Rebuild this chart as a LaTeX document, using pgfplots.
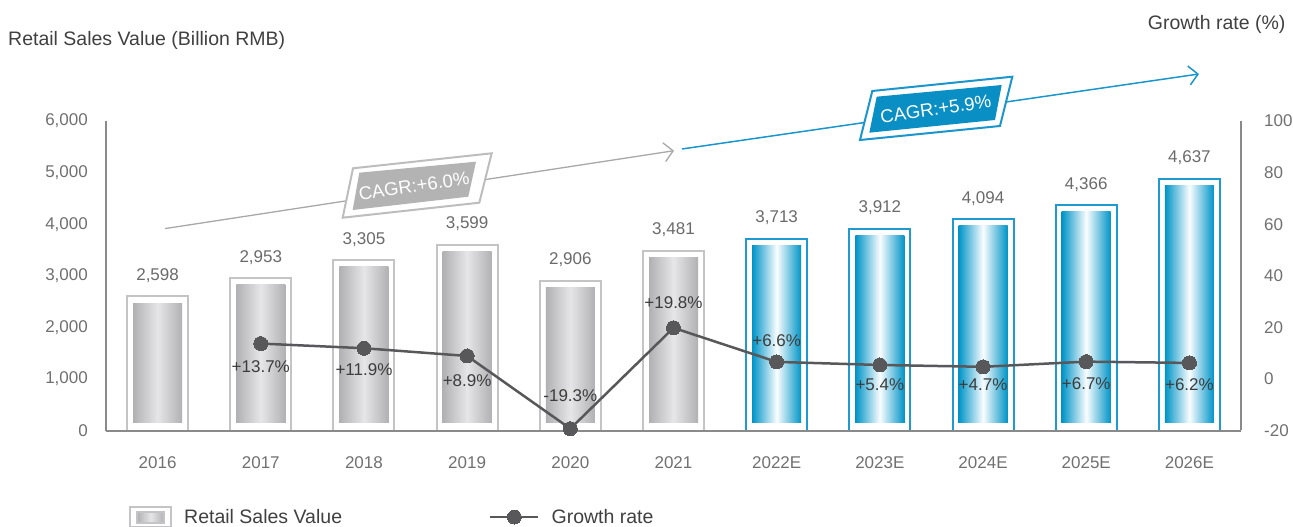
\documentclass[border=0pt]{standalone}
\usepackage{pgfplots}
\pgfplotsset{compat=1.18}
\usepackage{fontspec}
\setmainfont{Liberation Sans}
\usetikzlibrary{arrows.meta}
\definecolor{axisgray}{HTML}{8A8A8A}
\definecolor{tickgray}{HTML}{707070}
\definecolor{valgray}{HTML}{6A6A6A}
\definecolor{titlegray}{HTML}{404040}
\definecolor{lblgray}{HTML}{3C3C3C}
\definecolor{framegray}{HTML}{C4C4C6}
\definecolor{frameblue}{HTML}{1E9AD0}
\definecolor{gEdge}{HTML}{B1B1B4}
\definecolor{gMid}{HTML}{E6E6E8}
\definecolor{bEdge}{HTML}{0094C7}
\definecolor{bMid}{HTML}{FAFDFF}
\definecolor{linegray}{HTML}{58585A}
\definecolor{cagrgrayline}{HTML}{A8A8A8}
\definecolor{cagrgrayborder}{HTML}{BDBDBD}
\definecolor{cagrgrayfill}{HTML}{B3B3B3}
\definecolor{cagrblue}{HTML}{1A96CC}
\definecolor{cagrbluefill}{HTML}{0A8FC4}
\newcommand\fs{\fontsize{17pt}{20pt}\selectfont}
\newcommand\fl{\fontsize{19.5pt}{22pt}\selectfont}
\pgfplotsset{
  graybar/.style={forget plot, ybar, bar width=49pt, bar shift=0pt, draw=none,
    left color=gEdge, right color=gEdge, middle color=gMid},
  bluebar/.style={forget plot, ybar, bar width=49pt, bar shift=0pt, draw=none,
    left color=bEdge, right color=bEdge, middle color=bMid},
}
\begin{document}
\begin{tikzpicture}
\path[use as bounding box] (-106pt,-96.5pt) rectangle (1187pt,430.5pt);
\begin{axis}[
  at={(0pt,0pt)}, anchor=south west,
  width=1135pt, height=309.5pt, scale only axis,
  xmin=-0.5, xmax=10.5, ymin=0, ymax=6000,
  axis x line*=bottom, axis y line*=left,
  axis line style={draw=axisgray, line width=2pt, -},
  every outer x axis line/.append style={-},
  every outer y axis line/.append style={-},
  xtick={0,...,10},
  xticklabels={2016,2017,2018,2019,2020,2021,2022E,2023E,2024E,2025E,2026E},
  ytick={0,1000,...,6000},
  scaled y ticks=false,
  major tick length=0pt,
  /pgf/number format/assume math mode=true,
  /pgf/number format/1000 sep={,},
  tick label style={font=\fs, text=tickgray},
  xticklabel style={anchor=north, inner sep=0pt, yshift=-26pt},
  yticklabel style={anchor=east, inner sep=0pt, xshift=-18pt},
  clip=false, axis on top,
  legend columns=2,
  legend cell align=left,
  legend style={at={(axis description cs:0.0203,-0.2795)}, anchor=west, draw=none, fill=none,
    inner sep=0pt, font=\fl, text=titlegray,
    /tikz/every odd column/.append style={column sep=10pt},
    /tikz/every even column/.append style={column sep=145pt}},
]
% outer frames (gray)
\addplot[ybar, bar width=61pt, bar shift=0pt, draw=framegray, line width=2pt, fill=white,
  point meta=explicit symbolic, nodes near coords,
  every node near coord/.append style={anchor=base, yshift=16pt, inner sep=0pt, font=\fs, text=valgray},
  legend image code/.code={
    \draw[line width=2pt, draw=framegray, fill=white] (0pt,-10pt) rectangle (41pt,10pt);
    \shade[left color=gEdge, right color=gEdge, middle color=gMid] (7pt,-5.5pt) rectangle (34pt,5.5pt);}]
  table[x=x, y=y, meta=lab] {
x y lab
0 2598 2,598
1 2953 2,953
2 3305 3,305
3 3599 3,599
4 2906 2,906
5 3481 3,481
};
\addlegendentry{Retail Sales Value}
% outer frames (blue)
\addplot[forget plot, ybar, bar width=61pt, bar shift=0pt, draw=frameblue, line width=2pt, fill=white,
  point meta=explicit symbolic, nodes near coords,
  every node near coord/.append style={anchor=base, yshift=16pt, inner sep=0pt, font=\fs, text=valgray}]
  table[x=x, y=y, meta=lab] {
x y lab
6 3713 3,713
7 3912 3,912
8 4094 4,094
9 4366 4,366
10 4880 4,637
};
% inner gradient bars, one plot per bar so each bar gets its own shading
\addplot[graybar] coordinates {(0,2470)};
\addplot[graybar] coordinates {(1,2825)};
\addplot[graybar] coordinates {(2,3177)};
\addplot[graybar] coordinates {(3,3471)};
\addplot[graybar] coordinates {(4,2778)};
\addplot[graybar] coordinates {(5,3353)};
\addplot[bluebar] coordinates {(6,3585)};
\addplot[bluebar] coordinates {(7,3784)};
\addplot[bluebar] coordinates {(8,3966)};
\addplot[bluebar] coordinates {(9,4238)};
\addplot[bluebar] coordinates {(10,4752)};
% white base under inner bars
\addplot[forget plot, ybar, bar width=51pt, bar shift=0pt, draw=none, fill=white]
  coordinates {(0,145) (1,145) (2,145) (3,145) (4,145) (5,145) (6,145) (7,145) (8,145) (9,145) (10,145)};
\addlegendimage{color=linegray, line width=2.5pt, mark=*, mark size=7pt, mark options={line width=0pt},
  legend image code/.code={\draw[mark repeat=2, mark phase=2] plot coordinates {(0pt,0pt) (24pt,0pt) (48pt,0pt)};}}
\addlegendentry{Growth rate}
\end{axis}
\begin{axis}[
  at={(0pt,0pt)}, anchor=south west,
  width=1135pt, height=309.5pt, scale only axis,
  xmin=-0.5, xmax=10.5, ymin=-20, ymax=100,
  axis x line=none, axis y line*=right,
  axis line style={draw=axisgray, line width=2pt, -},
  every outer y axis line/.append style={-},
  ytick={-20,0,...,100},
  major tick length=0pt,
  /pgf/number format/assume math mode=true,
  tick label style={font=\fs, text=tickgray},
  yticklabel style={anchor=west, inner sep=0pt, xshift=23pt},
  clip=false,
]
\addplot[color=linegray, line width=2.5pt, mark=*, mark size=7pt, mark options={line width=0pt},
  point meta=explicit symbolic,
  visualization depends on={value \thisrow{dy}\as\dy},
  nodes near coords={\pgfplotspointmeta\%},
  every node near coord/.append style={anchor=center, yshift=\dy pt, font=\fs, text=lblgray, inner sep=0pt}]
  table[x=x, y=y, meta=lab] {
x y lab dy
1 13.7 +13.7 -23
2 11.9 +11.9 -21
3 8.9 +8.9 -25
4 -19.3 -19.3 33
5 19.8 +19.8 25
6 6.6 +6.6 21
7 5.4 +5.4 -20
8 4.7 +4.7 -18
9 6.7 +6.7 -22
10 6.2 +6.2 -22
};
\end{axis}
\begin{scope}[shift={(-106pt,430.5pt)}, x=1pt, y=-1pt]
  % titles
  \node[anchor=base west, font=\fl, text=titlegray, inner sep=0pt] at (8,45.5) {Retail Sales Value (Billion RMB)};
  \node[anchor=base east, font=\fl, text=titlegray, inner sep=0pt] at (1285.7,29.3) {Growth rate (\%)};
  % gray CAGR
  \draw[cagrgrayline, line width=1.3pt, -{Straight Barb[length=9pt,width=19pt,line width=1.3pt]}] (165,228.6) -- (674,150.7);
  \filldraw[fill=white, draw=cagrgrayborder, line width=2pt] (353,168.3) -- (491.7,153.3) -- (479.3,202.7) -- (342.7,217.7) -- cycle;
  \fill[cagrgrayfill] (359.3,172.7) -- (476,161.7) -- (468.3,196.7) -- (352.7,210) -- cycle;
  \node[rotate=8.5, text=white, font=\fontsize{18.5pt}{20pt}\selectfont, inner sep=0pt] at (414,186) {CAGR:+6.0\%};
  % blue CAGR
  \draw[cagrblue, line width=1.5pt, -{Straight Barb[length=9pt,width=19pt,line width=1.5pt]}] (682,149) -- (1199,74);
  \filldraw[fill=white, draw=cagrblue, line width=2pt] (872.3,91) -- (1012.3,76.7) -- (1000,126) -- (860,140) -- cycle;
  \fill[cagrbluefill] (876.7,96.7) -- (1001.7,85) -- (995,120) -- (869.3,132.7) -- cycle;
  \node[rotate=8.5, text=white, font=\fontsize{18.5pt}{20pt}\selectfont, inner sep=0pt] at (935.7,109) {CAGR:+5.9\%};
\end{scope}
\end{tikzpicture}
\end{document}
